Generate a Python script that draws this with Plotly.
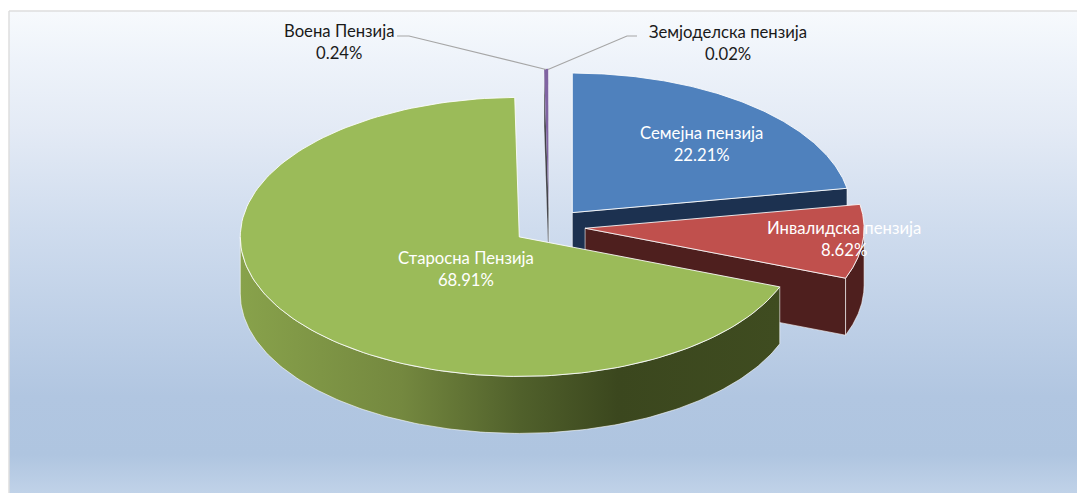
import numpy as np
import plotly.graph_objects as go

# --- data ---
categories = ["Семејна пензија", "Инвалидска пензија", "Старосна Пензија", "Воена Пензија", "Земјоделска пензија"]
values = [22.21, 8.62, 68.91, 0.24, 0.02]
top_colors = ["#4F81BD", "#C0504D", "#9BBB59", "#8064A2", "#4BACC6"]
wall_colors = ["#1C3150", "#4E1F1E", "#3C4820", "#3A3A40", "#20505C"]

# --- layout of the drawing (pixel based axes) ---
W, H = 1077, 493
CX, CY = 549.0, 226.5
RX, RY = 279.0, 139.5
EXPLODE = 0.13
DEPTH = 57.0
FONT = "Lato"
FS = 16.7

fracs = np.array(values) / sum(values)
edges = np.concatenate([[0], np.cumsum(fracs)]) * 2 * np.pi


def centre(i):
    mid = (edges[i] + edges[i + 1]) / 2
    return CX + EXPLODE * RX * np.sin(mid), CY - EXPLODE * RY * np.cos(mid)


def arc(c, a, b, dy=0.0, n=160):
    t = np.linspace(a, b, n)
    return c[0] + RX * np.sin(t), c[1] - RY * np.cos(t) + dy


fig = go.Figure()


def poly(x, y, color=None, line=None, lw=1.0, grad=None):
    kw = dict(x=list(x), y=list(y), mode="lines", fill="toself", hoverinfo="skip", showlegend=False)
    kw["line"] = dict(color=line or "rgba(0,0,0,0)", width=lw if line else 0)
    if grad is not None:
        kw["fillgradient"] = grad
    else:
        kw["fillcolor"] = color
    fig.add_trace(go.Scatter(**kw))


def radial_wall(i, th, color, lw=0.8):
    c = centre(i)
    px, py = arc(c, th, th, n=1)
    poly([c[0], px[0], px[0], c[0], c[0]],
         [c[1], py[0], py[0] + DEPTH, c[1] + DEPTH, c[1]], color,
         "rgba(255,255,255,0.75)", lw)


def rim(i, a, b, color=None, grad=None):
    c = centre(i)
    x1, y1 = arc(c, a, b)
    x2, y2 = arc(c, b, a, DEPTH)
    poly(np.r_[x1, x2, x1[0]], np.r_[y1, y2, y1[0]], color, "rgba(255,255,255,0.75)", 0.8, grad)


def top(i, line="rgba(255,255,255,0.85)", lw=1.0):
    c = centre(i)
    x, y = arc(c, edges[i], edges[i + 1])
    poly(np.r_[c[0], x, c[0]], np.r_[c[1], y, c[1]], top_colors[i], line, lw)


# background panel
poly([9, W + 4, W + 4, 9, 9], [11, 11, H + 4, H + 4, 11], line="#DEDEDE", lw=1.5, grad=dict(
    type="vertical", start=11, stop=H,
    colorscale=[[0.0, "#F7FAFD"], [0.10, "#EEF3FA"], [0.25, "#E3EAF5"], [0.45, "#CFDCEE"],
                [0.80, "#B1C6E1"], [0.92, "#AFC5E0"], [1.0, "#C0D2E8"]]))

# thin slices at the back
for k in (3, 4):
    radial_wall(k, edges[k], wall_colors[k], 0.3)
    top(k, line=None, lw=0)

# blue slice
radial_wall(0, edges[1], wall_colors[0])
top(0)

# red slice
radial_wall(1, edges[2], wall_colors[1])
rim(1, np.pi / 2, edges[2], wall_colors[1])
top(1)

# green slice
rim(2, edges[2], 1.5 * np.pi, grad=dict(
    type="horizontal", start=240, stop=780,
    colorscale=[[0.0, "#88A24B"], [0.30, "#74883F"], [0.52, "#50602B"], [0.70, "#3B471E"], [1.0, "#3F4C20"]]))
top(2)

# leader lines
for xs, ys in (([397, 409, 546], [36, 36, 69.5]), ([637, 627, 548], [36, 36, 69.5])):
    fig.add_trace(go.Scatter(x=xs, y=ys, mode="lines", line=dict(color="#A6A6A6", width=1.2),
                             hoverinfo="skip", showlegend=False))

# labels
label_pos = [(701, 143.5, "white"), (844, 238.5, "white"), (466, 268.5, "white"), (339, 41.5, "#1a1a1a"), (728, 42.5, "#1a1a1a")]
for name, v, (lx, ly, col) in zip(categories, values, label_pos):
    fig.add_annotation(x=lx, y=ly, xref="x", yref="y", text=f"{name}<br>{v:.2f}%", showarrow=False,
                       font=dict(family=FONT, size=FS, color=col), align="center")

fig.update_layout(
    width=W, height=H, margin=dict(l=0, r=0, t=0, b=0), autosize=False,
    paper_bgcolor="white", plot_bgcolor="white",
    xaxis=dict(range=[0, W], visible=False, fixedrange=True),
    yaxis=dict(range=[H, 0], visible=False, fixedrange=True),
)
fig.write_html("out.html", post_script="document.body.style.margin='0';",
               config=dict(displayModeBar=False))
